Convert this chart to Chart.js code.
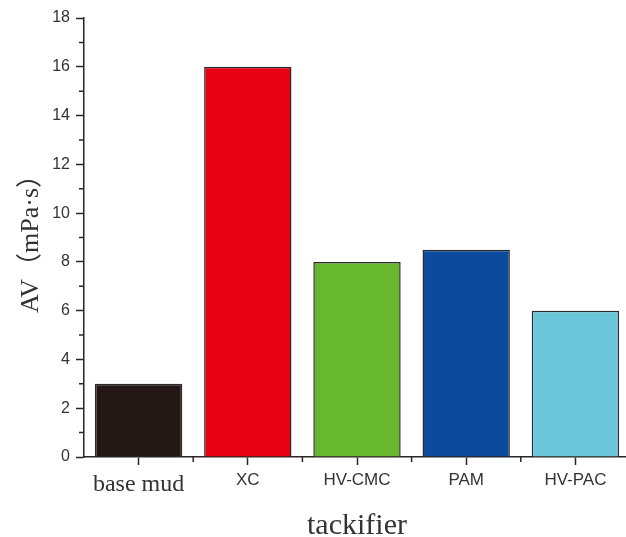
<!DOCTYPE html>
<html>
<head>
<meta charset="utf-8">
<script src="https://cdn.jsdelivr.net/npm/chart.js@4/dist/chart.umd.min.js"></script>
<style>
  html, body { margin: 0; padding: 0; background: #fff; overflow: hidden; }
  #wrap { width: 632px; height: 537px; }
</style>
</head>
<body>
<div id="wrap"><canvas id="avChart" width="632" height="537"></canvas></div>
<script>
// apparent viscosity per tackifier
const categories = ['base mud', 'XC', 'HV-CMC', 'PAM', 'HV-PAC'];
const avValues = [3, 16, 8, 8.5, 6];
const barColors = ['#231815', '#e50012', '#67b72f', '#0b4a9c', '#6bc6da'];
const yMin = 0;
const yMax = 18;
const yStep = 2;

const axisColor = '#2a2523';
const serif = "'Liberation Serif', 'Times New Roman', 'Noto Sans CJK SC', serif";
const sans = "'Liberation Sans', Arial, sans-serif";

// Origin-style minor ticks: odd values on y, category boundaries on x
const minorTicks = {
    id: 'minorTicks',
    afterDraw(chart) {
        const { ctx, chartArea } = chart;
        const x = chart.scales.x;
        const y = chart.scales.y;
        ctx.save();
        ctx.strokeStyle = axisColor;
        ctx.lineWidth = 1.5;
        ctx.beginPath();
        for (let v = yMin + yStep / 2; v < yMax; v += yStep) {
            const py = y.getPixelForValue(v);
            ctx.moveTo(chartArea.left - 5, py);
            ctx.lineTo(chartArea.left, py);
        }
        const half = (x.getPixelForValue(1) - x.getPixelForValue(0)) / 2;
        categories.forEach((c, i) => {
            const px = x.getPixelForValue(i) + half;
            ctx.moveTo(px, chartArea.bottom);
            ctx.lineTo(px, chartArea.bottom + 5);
        });
        ctx.stroke();
        ctx.restore();
    }
};

document.addEventListener("DOMContentLoaded", () => {
    const ctx = document.getElementById('avChart').getContext('2d');

    new Chart(ctx, {
        type: 'bar',
        data: {
            labels: categories,
            datasets: [{
                label: 'AV',
                data: avValues,
                backgroundColor: barColors,
                borderColor: '#2b2b2b',
                borderWidth: 1.5,
                barPercentage: 0.8,
                categoryPercentage: 1.0
            }]
        },
        options: {
            responsive: false,
            animation: false,
            layout: { padding: { top: 18, right: 2, left: 0, bottom: 0 } },
            plugins: {
                legend: { display: false },
                tooltip: { enabled: false }
            },
            scales: {
                x: {
                    grid: {
                        offset: false,
                        drawOnChartArea: false,
                        drawTicks: true,
                        tickLength: 8,
                        tickColor: axisColor,
                        tickWidth: 1.5
                    },
                    border: { color: axisColor, width: 1.5 },
                    ticks: {
                        color: '#333333',
                        padding: 5,
                        maxRotation: 0,
                        font: c => c.index === 0
                            ? { family: serif, size: 24 }
                            : { family: sans, size: 17 }
                    },
                    title: {
                        display: true,
                        text: 'tackifier',
                        color: '#333333',
                        font: { family: serif, size: 30, lineHeight: 1 },
                        padding: { top: 0, bottom: -4 }
                    },
                    afterFit: s => { s.height = 80; }
                },
                y: {
                    min: yMin,
                    max: yMax,
                    grid: {
                        drawOnChartArea: false,
                        drawTicks: true,
                        tickLength: 8,
                        tickColor: axisColor,
                        tickWidth: 1.5
                    },
                    border: { color: axisColor, width: 1.5 },
                    ticks: {
                        stepSize: yStep,
                        color: '#333333',
                        padding: 6,
                        font: { family: sans, size: 16 }
                    },
                    title: {
                        display: true,
                        text: 'AV（mPa·s）',
                        color: '#333333',
                        font: { family: serif, size: 26, lineHeight: 1 },
                        padding: { top: 18, bottom: 0 }
                    },
                    afterFit: s => { s.width = 84; }
                }
            }
        },
        plugins: [minorTicks]
    });
});
</script>
</body>
</html>
